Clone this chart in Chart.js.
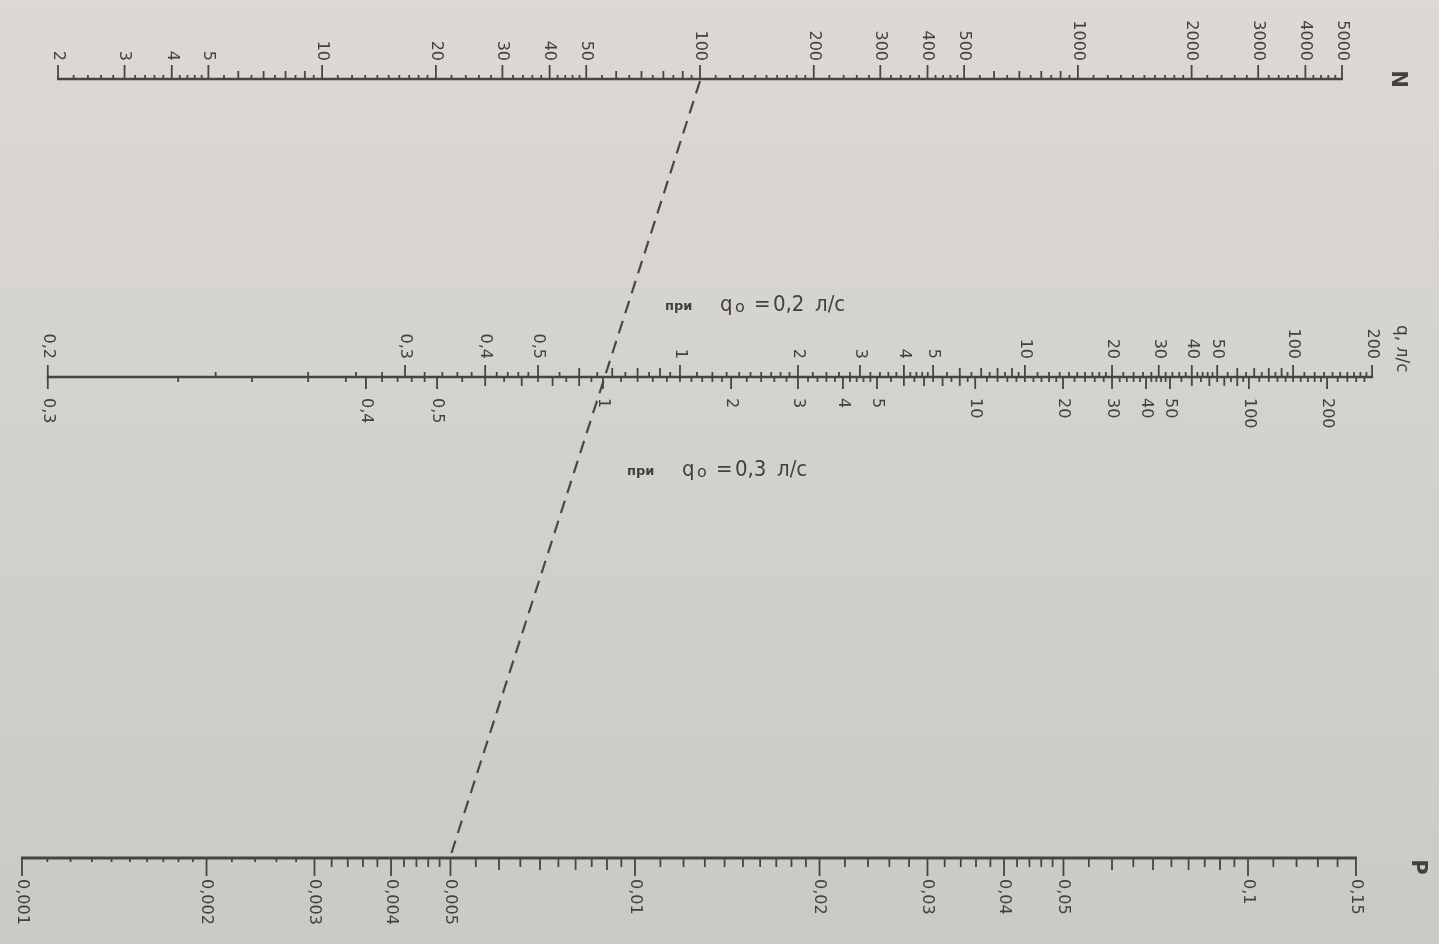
<!DOCTYPE html>
<html><head><meta charset="utf-8">
<script src="https://cdn.jsdelivr.net/npm/chart.js@4.4.0/dist/chart.umd.min.js"></script>
<style>html,body{margin:0;padding:0;background:#d6d4d0;overflow:hidden}canvas{display:block}</style>
</head><body><canvas id="c" width="1439" height="944"></canvas>
<script>
// ---------------- DATA ----------------
// N scale (number of devices)
const nLabels = [2,3,4,5,10,20,30,40,50,100,200,300,400,500,1000,2000,3000,4000,5000];
const nSteps = [[2,5,0.2],[5,10,0.5],[10,20,1],[20,50,2],[50,100,5],[100,200,10],[200,500,20],[500,1000,50],[1000,2000,100],[2000,5000,200]];
// q scale, upper side (q0 = 0.2 l/s)
const q0Upper = 0.2;
const qUpperLabels = [0.2,0.3,0.4,0.5,1,2,3,4,5,10,20,30,40,50,100,200];
const qUpperSteps = [[0.2,0.3,0.02],[0.3,0.5,0.02],[0.5,1,0.05],[1,2,0.1],[2,5,0.2],[5,10,0.5],[10,20,1],[20,50,2],[50,100,5],[100,200,10]];
// q scale, lower side (q0 = 0.3 l/s)
const q0Lower = 0.3;
const qLowerLabels = [0.3,0.4,0.5,1,2,3,4,5,10,20,30,40,50,100,200];
const qLowerSteps = [[0.3,0.5,0.02],[0.5,1,0.05],[1,2,0.1],[2,5,0.2],[5,10,0.5],[10,20,1],[20,50,2],[50,100,5],[100,200,10],[200,280,20]];
// P scale (probability)
const pLabels = [0.001,0.002,0.003,0.004,0.005,0.01,0.02,0.03,0.04,0.05,0.1,0.15];
const pSteps = [[0.001,0.002,0.0001],[0.002,0.005,0.0002],[0.005,0.01,0.0005],[0.01,0.02,0.001],[0.02,0.05,0.002],[0.05,0.1,0.005],[0.1,0.15,0.01]];
// calibration of the middle scale: alpha as a function of NP
const calNP    = [0.00203,0.00735,0.0153,0.0266,0.0386,0.0471,0.0693,0.0951,0.153,0.258,0.49,1.049,1.738,3.365,5.25,6.21,7.35,9.59,12.8,19.4,31.7,46.2,75,105,119,133,165,212,290,449,628,980];
const calAlpha = [0.2,0.2133,0.2267,0.24,0.2533,0.2667,0.3,0.3333,0.4,0.5,0.6667,1,1.333,2,2.667,3,3.333,4,5,6.667,10,13.33,20,26.67,30,33.33,40,50,66.67,100,133.3,200];
// example key line
const indexN = 100, indexP = 0.005;

// ---------------- LAYOUT ----------------
const W = 1439, H = 944;
const N_Y = 79, Q_Y = 377, P_Y = 858;
function logRange(v1, px1, v2, px2) {
  const k = (px2 - px1) / (Math.log10(v2) - Math.log10(v1));
  return { min: v1 * Math.pow(10, -px1 / k), max: v1 * Math.pow(10, (W - px1) / k) };
}
const rN = logRange(2, 58, 5000, 1342);
const rQ = logRange(0.5, 605, 5, 605 + 233);
const rP = logRange(0.001, 22, 0.1, 1248);

function npForAlpha(a) {
  if (a <= calAlpha[0]) return calNP[0];
  for (let i = 0; i < calAlpha.length - 1; i++) {
    if (a <= calAlpha[i + 1] + 1e-12) {
      const t = (Math.log10(a) - Math.log10(calAlpha[i])) / (Math.log10(calAlpha[i + 1]) - Math.log10(calAlpha[i]));
      return Math.pow(10, Math.log10(calNP[i]) + t * (Math.log10(calNP[i + 1]) - Math.log10(calNP[i])));
    }
  }
  return calNP[calNP.length - 1];
}
function genTicks(steps) {
  const m = new Map();
  steps.forEach(([a, b, s]) => {
    const n = Math.round((b - a) / s);
    for (let i = 0; i <= n; i++) { const v = +(a + i * s).toPrecision(10); m.set(v.toPrecision(8), v); }
  });
  return [...m.values()].sort((a, b) => a - b);
}
function kind(v, labels) {
  if (labels.some(l => Math.abs(l / v - 1) < 1e-6)) return 'major';
  const e = Math.floor(Math.log10(v) + 1e-9);
  const mant = v / Math.pow(10, e);
  return Math.abs(mant - Math.round(mant)) < 1e-6 ? 'medium' : 'minor';
}
const fmt = v => String(v).replace('.', ',');
// N value lying at the same horizontal fraction as P on the P scale
function nAtSameFraction(p) {
  const f = (Math.log10(p) - Math.log10(rP.min)) / (Math.log10(rP.max) - Math.log10(rP.min));
  return Math.pow(10, Math.log10(rN.min) + f * (Math.log10(rN.max) - Math.log10(rN.min)));
}

const INK = '#474542', TXT = '#43413e';
const TICK_FONT = '16px "DejaVu Sans", sans-serif';

function vText(ctx, text, x, y, align, font) {
  ctx.save(); ctx.translate(x, y); ctx.rotate(Math.PI / 2);
  ctx.font = font; ctx.textAlign = align; ctx.textBaseline = 'middle';
  ctx.fillText(text, 0, 0); ctx.restore();
}
function hLine(ctx, x1, x2, y, w) { ctx.beginPath(); ctx.lineWidth = w; ctx.moveTo(x1, y); ctx.lineTo(x2, y); ctx.stroke(); }
function vLine(ctx, x, y1, y2, w) { ctx.beginPath(); ctx.lineWidth = w; ctx.moveTo(x, y1); ctx.lineTo(x, y2); ctx.stroke(); }

const nomo = {
  id: 'nomo',
  beforeDraw(chart) {
    const ctx = chart.ctx;
    const g = ctx.createLinearGradient(0, 0, 0, H);
    g.addColorStop(0, '#dcd9d4'); g.addColorStop(0.5, '#d3d1cd'); g.addColorStop(1, '#c9cac6');
    ctx.save(); ctx.fillStyle = g; ctx.fillRect(0, 0, W, H); ctx.restore();
  },
  afterDatasetsDraw(chart) {
    const ctx = chart.ctx, sN = chart.scales.xN, sQ = chart.scales.xQ, sP = chart.scales.xP, sY = chart.scales.y;
    const yN = sY.getPixelForValue(N_Y), yQ = sY.getPixelForValue(Q_Y), yP = sY.getPixelForValue(P_Y);
    ctx.save();
    ctx.strokeStyle = INK; ctx.fillStyle = TXT; ctx.lineCap = 'butt';

    // ---- N scale ----
    hLine(ctx, sN.getPixelForValue(2) - 1, sN.getPixelForValue(5000) + 1, yN, 2.5);
    genTicks(nSteps).forEach(v => {
      const k = kind(v, nLabels), x = sN.getPixelForValue(v);
      const len = k === 'major' ? 14 : k === 'medium' ? 8 : 4;
      vLine(ctx, x, yN, yN - len, 1.8);
    });
    nLabels.forEach(v => vText(ctx, String(v), sN.getPixelForValue(v), yN - 18, 'right', TICK_FONT));
    vText(ctx, 'N', 1397, yN, 'center', 'bold 21px "DejaVu Sans", sans-serif');

    // ---- q scale ----
    const xq = (q, q0) => sQ.getPixelForValue(npForAlpha(q / (5 * q0)));
    hLine(ctx, xq(0.2, q0Upper) - 1, xq(200, q0Upper) + 1, yQ, 2.5);
    genTicks(qUpperSteps).forEach(v => {
      const k = kind(v, qUpperLabels), x = xq(v, q0Upper);
      const len = k === 'major' ? 12 : k === 'medium' ? 9 : 5;
      vLine(ctx, x, yQ, yQ - len, 1.8);
    });
    genTicks(qLowerSteps).forEach(v => {
      const k = kind(v, qLowerLabels), x = xq(v, q0Lower);
      const len = k === 'major' ? 12 : k === 'medium' ? 9 : 5;
      vLine(ctx, x, yQ, yQ + len, 1.8);
    });
    qUpperLabels.forEach(v => vText(ctx, fmt(v), xq(v, q0Upper), yQ - 18, 'right', TICK_FONT));
    qLowerLabels.forEach(v => vText(ctx, fmt(v), xq(v, q0Lower), yQ + 21, 'left', TICK_FONT));
    vText(ctx, 'q, л/с', 1401, 325, 'left', '17px "DejaVu Sans", sans-serif');

    // ---- P scale ----
    hLine(ctx, sP.getPixelForValue(0.001) - 1, sP.getPixelForValue(0.15) + 1, yP, 3);
    genTicks(pSteps).forEach(v => {
      const k = kind(v, pLabels), x = sP.getPixelForValue(v);
      let len = k === 'major' ? 18 : k === 'medium' ? 12 : 9;
      if (k !== 'major' && v < 0.003 - 1e-9) len = 4;
      vLine(ctx, x, yP, yP + len, 1.8);
    });
    pLabels.forEach(v => vText(ctx, fmt(v), sP.getPixelForValue(v), yP + 21, 'left', TICK_FONT));
    vText(ctx, 'P', 1417, 867, 'center', 'bold 21px "DejaVu Sans", sans-serif');

    // ---- annotations ----
    const big = '22px "DejaVu Sans Condensed", "Liberation Sans", sans-serif';
    const small = 'bold 13px "DejaVu Sans", sans-serif';
    const sub = '16px "DejaVu Sans", sans-serif';
    ctx.textAlign = 'left'; ctx.textBaseline = 'alphabetic';
    const anno = (x0, yb, val) => {
      ctx.font = small; ctx.fillText('при', x0, yb - 1);
      ctx.font = big; ctx.fillText('q', x0 + 55, yb);
      ctx.font = sub; ctx.fillText('o', x0 + 70, yb + 1);
      ctx.font = big; ctx.fillText('=', x0 + 89, yb);
      ctx.fillText(val, x0 + 108, yb);
      ctx.fillText('л/с', x0 + 150, yb);
    };
    anno(665, 311, '0,2');
    anno(627, 476, '0,3');
    ctx.restore();
  }
};

new Chart(document.getElementById('c'), {
  type: 'scatter',
  data: {
    datasets: [{
      label: 'index',
      data: [{ x: indexN, y: N_Y + 2 }, { x: nAtSameFraction(indexP), y: P_Y - 2 }],
      xAxisID: 'xN', yAxisID: 'y',
      showLine: true, borderColor: '#4a4845', borderWidth: 2.2, borderDash: [13, 8],
      pointRadius: 0, fill: false, clip: false
    }]
  },
  options: {
    responsive: false, devicePixelRatio: 1, animation: false,
    layout: { padding: 0, autoPadding: false },
    plugins: { legend: { display: false }, tooltip: { enabled: false } },
    events: [],
    scales: {
      xN: { type: 'logarithmic', axis: 'x', min: rN.min, max: rN.max, bounds: 'data', display: false },
      xQ: { type: 'logarithmic', axis: 'x', min: rQ.min, max: rQ.max, bounds: 'data', display: false },
      xP: { type: 'logarithmic', axis: 'x', min: rP.min, max: rP.max, bounds: 'data', display: false },
      y: { type: 'linear', min: 0, max: H, reverse: true, display: false }
    }
  },
  plugins: [nomo]
});
</script>
</body></html>
